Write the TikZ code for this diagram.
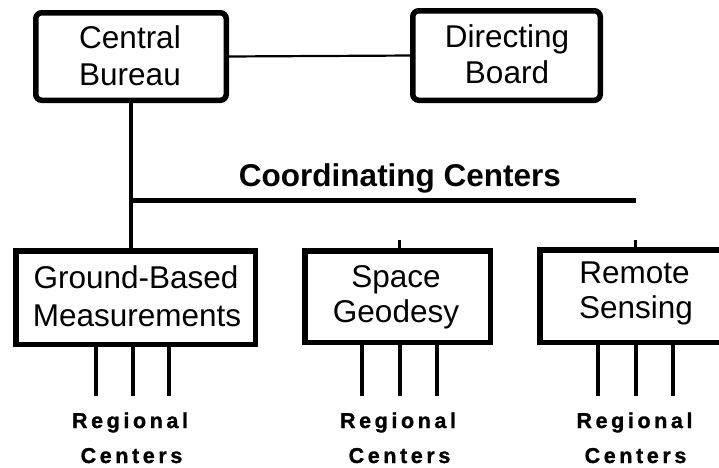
\documentclass[tikz,border=0pt]{standalone}
\usepackage{fontspec}
\setmainfont{Liberation Sans}
% heavier bold face for the regional labels
\newfontfamily\heavyfont[FakeBold=1.2]{Liberation Sans Bold}
% tracking used for the regional labels
\newcommand\lsp{\kern3.6pt\relax}
\begin{document}
\begin{tikzpicture}[x=1pt,y=-1pt,
  unitbox/.style={draw, line width=5.5pt, inner sep=0pt, outer sep=0pt},
  roundbox/.style={unitbox, rounded corners=6pt},
  boxtext/.style={anchor=base, inner sep=0pt, font=\fontsize{31.5}{37}\selectfont},
  headtext/.style={anchor=base, inner sep=0pt, font=\fontsize{31.5}{37}\selectfont\bfseries},
  regtext/.style={anchor=base, inner sep=0pt, font=\heavyfont\fontsize{21.5}{26}\selectfont},
  link/.style={line width=2.2pt},
  trunk/.style={line width=3.6pt},
  busline/.style={line width=4.5pt},
  feeder/.style={line width=3.4pt},
  tick/.style={line width=3pt}]
\useasboundingbox (0,0) rectangle (719,467);

% top level
\node[roundbox, minimum width=190.5pt, minimum height=87.5pt] (cb) at (131,56.5) {};
\node[roundbox, minimum width=187.5pt, minimum height=89.5pt] (db) at (506.5,55.5) {};
\node[boxtext] (cb1) at (130,48) {Central};
\node[boxtext] (cb2) at (130,85) {Bureau};
\node[boxtext] (db1) at (507,47) {Directing};
\node[boxtext] (db2) at (507,83) {Board};

% coordinating centers
\node[unitbox, minimum width=239.5pt, minimum height=93.5pt] (gbm) at (135.5,297.5) {};
\node[unitbox, minimum width=185.5pt, minimum height=91.5pt] (sg) at (397.5,296.5) {};
\node[unitbox, minimum width=184.5pt, minimum height=92.5pt] (rs) at (632,296) {};
\node[boxtext] (gbm1) at (136,288) {Ground-Based};
\node[boxtext] (gbm2) at (137,326) {Measurements};
\node[boxtext] (sg1) at (396,287) {Space};
\node[boxtext] (sg2) at (396,322) {Geodesy};
\node[boxtext] (rs1) at (634.5,283) {Remote};
\node[boxtext] (rs2) at (636,318) {Sensing};

\node[headtext] (cct) at (400,186) {Coordinating Centers};

% connectors
\draw[link] (cb.east) -- (db.west);
\draw[trunk] (cb.south) -- (cb.south |- gbm.north);
\coordinate (busend) at (636,200.5);
\coordinate (busstart) at (cb.south |- busend);
\draw[busline] (busstart) -- (busend);

\coordinate (sgtop) at (399,240);
\coordinate (rstop) at (635,240);
\draw[tick] (sgtop) -- (sgtop |- sg.north);
\draw[tick] (rstop) -- (rstop |- rs.north);

% regional feeders
\foreach \x/\name in {96/gbm,133/gbm,169/gbm,362/sg,400/sg,437/sg,598/rs,636/rs,673/rs}{
  \coordinate (foot) at (\x,396);
  \draw[feeder] (foot |- \name.south) -- (foot);
}

\node[regtext] (gr1) at (130,428) {R\lsp e\lsp g\lsp i\lsp o\lsp n\lsp a\lsp l};
\node[regtext] (gr2) at (131.5,463) {C\lsp e\lsp n\lsp t\lsp e\lsp r\lsp s};
\node[regtext] (sr1) at (398,428) {R\lsp e\lsp g\lsp i\lsp o\lsp n\lsp a\lsp l};
\node[regtext] (sr2) at (399.5,463) {C\lsp e\lsp n\lsp t\lsp e\lsp r\lsp s};
\node[regtext] (rr1) at (634.5,428) {R\lsp e\lsp g\lsp i\lsp o\lsp n\lsp a\lsp l};
\node[regtext] (rr2) at (635.5,463) {C\lsp e\lsp n\lsp t\lsp e\lsp r\lsp s};
\end{tikzpicture}
\end{document}
